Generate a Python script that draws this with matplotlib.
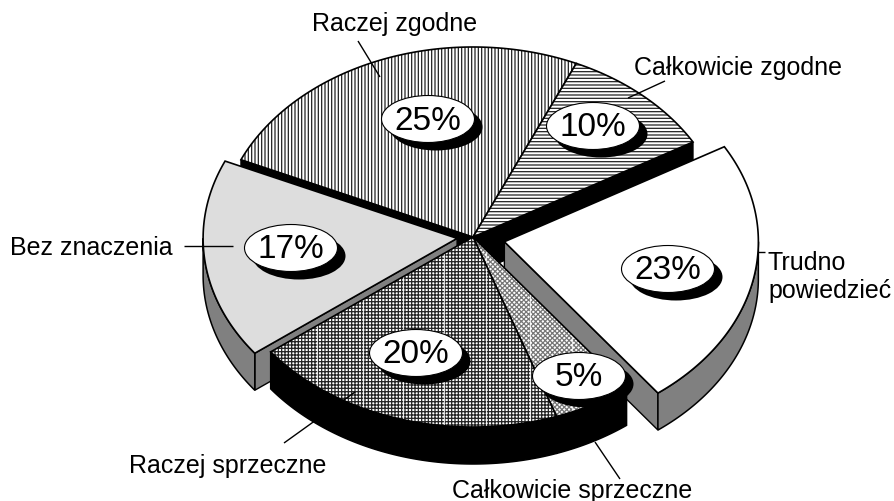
import numpy as np
import matplotlib
matplotlib.use("Agg")
import matplotlib.pyplot as plt
from matplotlib.patches import Polygon, Ellipse

# slices, counter clockwise from the cut at 30 degrees
names = ["Całkowicie zgodne", "Raczej zgodne", "Bez znaczenia", "Raczej sprzeczne", "Całkowicie sprzeczne", "Trudno\npowiedzieć"]
values = [10, 25, 17, 20, 5, 23]
explode = [0, 0, 16, 0, 0, 32]
tops = ["white", "white", "#dddddd", "white", "white", "white"]
hatches = ["-----", "|||||", None, "+++++", "xxxxxxx", None]
hatch_colors = ["#222222", "#222222", "black", "#222222", "#777777", "black"]
sides = ["black", "black", "#808080", "black", "black", "#808080"]
draw_order = [1, 0, 5, 2, 4, 3]

# bubble centres for the percentage labels
bubble_x = [593, 428, 291, 416, 579, 668]
bubble_y = [127, 120, 249, 354, 377, 270]

# label text anchors (baseline) and leader lines
label_x = [634, 312, 10, 129, 452, 768]
label_y = [75, 31, 255, 473, 498, 270]
leader_x = [(665, 628), (358, 380), (184, 233), (284, 355), (595, 620), (758, 765)]
leader_y = [(82, 99), (42, 78), (247, 247), (444, 393), (443, 480), (253, 253)]

# pale stripes that run through the fine grid
stripe_x = [317, 363, 403, 444, 486, 530, 572]

cx, cy = 473, 238
a, b = 254, 190
depth = 37
start = 30.0

plt.rcParams["font.family"] = ["Liberation Sans", "DejaVu Sans"]
plt.rcParams["hatch.linewidth"] = 0.9

fig = plt.figure(figsize=(8.94, 5.02), dpi=100)
ax = fig.add_axes([0, 0, 1, 1])
ax.set_xlim(0, 894)
ax.set_ylim(502, 0)
ax.axis("off")


def arc(x0, y0, t1, t2):
    t = np.radians(np.linspace(t1, t2, 120))
    return np.column_stack([x0 + a * np.cos(t), y0 - b * np.sin(t)])


edges = start + 3.6 * np.concatenate([[0], np.cumsum(values)])
z = 2
for i in draw_order:
    t1, t2 = edges[i], edges[i + 1]
    mid = np.radians((t1 + t2) / 2)
    x0 = cx + explode[i] * np.cos(mid)
    y0 = cy - explode[i] * np.sin(mid) * b / a
    down = np.array([0, depth])
    rim = arc(x0, y0, t1, t2)
    apex = np.array([x0, y0])

    # radial cut faces that look towards the viewer
    if np.cos(np.radians(t1)) > 0:
        ax.add_patch(Polygon([apex, rim[0], rim[0] + down, apex + down], fc=sides[i], ec="black", lw=1, zorder=z))
    if np.cos(np.radians(t2)) < 0:
        ax.add_patch(Polygon([apex, rim[-1], rim[-1] + down, apex + down], fc=sides[i], ec="black", lw=1, zorder=z))

    # outer wall, only the front half of the pie
    f1, f2 = max(t1, 180), min(t2, 360)
    if f1 < f2:
        front = arc(x0, y0, f1, f2)
        ax.add_patch(Polygon(np.vstack([front, (front + down)[::-1]]), fc=sides[i], ec="black", lw=1.1, zorder=z))

    outline = np.vstack([apex, rim])
    if hatches[i]:
        top = Polygon(outline, fc=tops[i], ec=hatch_colors[i], hatch=hatches[i], lw=0, zorder=z + 0.1)
        ax.add_patch(top)
        if i in (3, 4):
            for sx in stripe_x:
                ax.axvline(sx, color="white", lw=0.8, alpha=0.8, zorder=z + 0.15, clip_path=top)
    ax.add_patch(Polygon(outline, fc="none" if hatches[i] else tops[i], ec="black", lw=1.2, zorder=z + 0.2))
    z += 1

# leader lines sit on the slices, under the bubbles
for i in range(len(names)):
    ax.plot(leader_x[i], leader_y[i], color="black", lw=1, solid_capstyle="butt", zorder=20)
    for k, line in enumerate(names[i].split("\n")):
        ax.text(label_x[i], label_y[i] + 28 * k, line, ha="left", va="baseline", fontsize=18, zorder=21)

for i in range(len(values)):
    ax.add_patch(Ellipse((bubble_x[i] + 8, bubble_y[i] + 8), 93, 47, fc="black", ec="black", lw=0, zorder=22))
    ax.add_patch(Ellipse((bubble_x[i], bubble_y[i]), 93, 47, fc="white", ec="black", lw=0.8, zorder=23))
    ax.text(bubble_x[i], bubble_y[i] + 1, f"{values[i]}%", ha="center", va="center", fontsize=24, zorder=24)

fig.savefig("out.png", dpi=100)
